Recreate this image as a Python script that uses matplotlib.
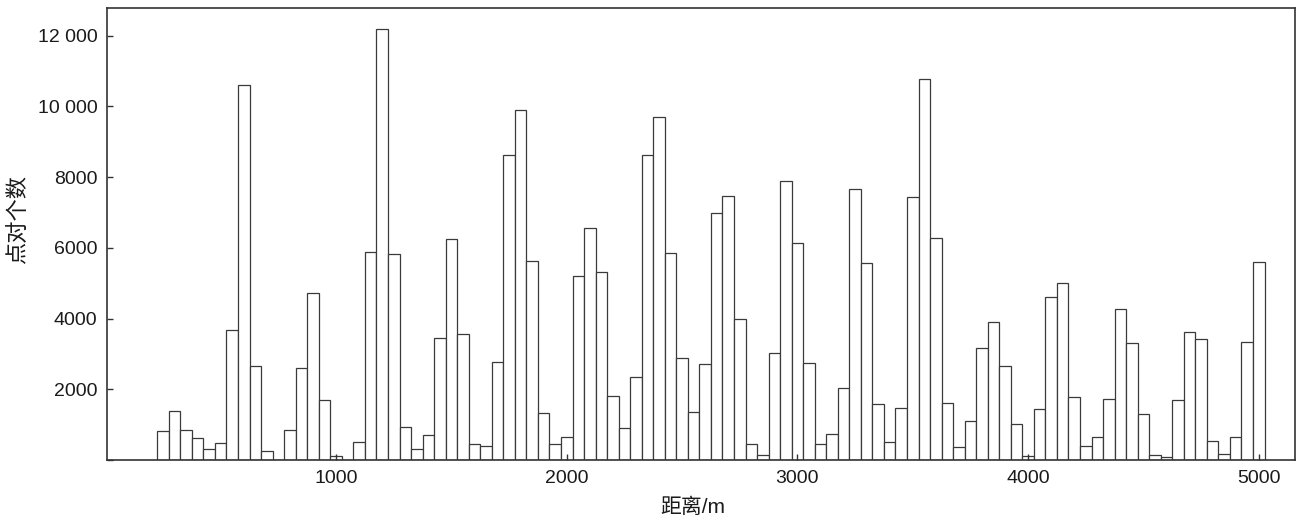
import numpy as np
import matplotlib
matplotlib.use("Agg")
import matplotlib.pyplot as plt
from matplotlib.ticker import FuncFormatter

plt.rcParams['font.family'] = ['Liberation Sans', 'Noto Sans CJK SC', 'DejaVu Sans']

# lag distance (bin centre, m) and number of point pairs
lag = list(range(250, 5001, 50))
counts = [
    810, 1380, 840, 610, 300, 470, 3670, 10600, 2670, 245,
    0, 850, 2590, 4715, 1700, 100, 0, 500, 5875, 12180,
    5820, 940, 300, 700, 3450, 6240, 3575, 445, 385, 2765,
    8620, 9890, 5620, 1320, 460, 640, 5195, 6570, 5320, 1800,
    895, 2360, 8620, 9695, 5840, 2875, 1350, 2705, 6980, 7470,
    3980, 445, 150, 3035, 7875, 6130, 2735, 445, 725, 2030,
    7675, 5575, 1575, 500, 1460, 7430, 10770, 6290, 1610, 375,
    1095, 3180, 3905, 2670, 1010, 100, 1445, 4600, 5000, 1780,
    385, 660, 1715, 4280, 3300, 1290, 140, 75, 1705, 3610,
    3415, 530, 160, 660, 3330, 5590,
]
xticks = [1000, 2000, 3000, 4000, 5000]
yticks = [0, 2000, 4000, 6000, 8000, 10000, 12000]


def y_fmt(v, pos):
    if v == 0:
        return ''
    if v >= 10000:
        return f"{int(v):,}".replace(',', ' ')
    return str(int(v))


W, H = 1303, 522
fig = plt.figure(figsize=(W / 100, H / 100), dpi=100)
ax = fig.add_axes([107 / W, 1 - 460 / H, (1295 - 107) / W, (460 - 8) / H])

ax.bar(lag, counts, width=50, color='white', edgecolor='#3a3a3a', linewidth=0.9)

ax.set_xlim(7, 5157)
ax.set_ylim(0, 12780)
ax.set_xticks(xticks)
ax.set_yticks(yticks)
ax.yaxis.set_major_formatter(FuncFormatter(y_fmt))
ax.tick_params(direction='in', length=4.5, width=1.0, colors='#333333',
               labelcolor='#1a1a1a', labelsize=14, pad=7)

for sp in ax.spines.values():
    sp.set_color('#333333')
    sp.set_linewidth(1.2)

# axis titles placed where they sit in the original
fig.text(693 / W, 1 - 507 / H, '距离/m', fontsize=15, color='#1a1a1a',
         ha='center', va='center')
fig.text(19 / W, 1 - 219 / H, '点对个数', fontsize=16, color='#1a1a1a',
         ha='center', va='center', rotation=90)

fig.savefig('out.png', dpi=100)
